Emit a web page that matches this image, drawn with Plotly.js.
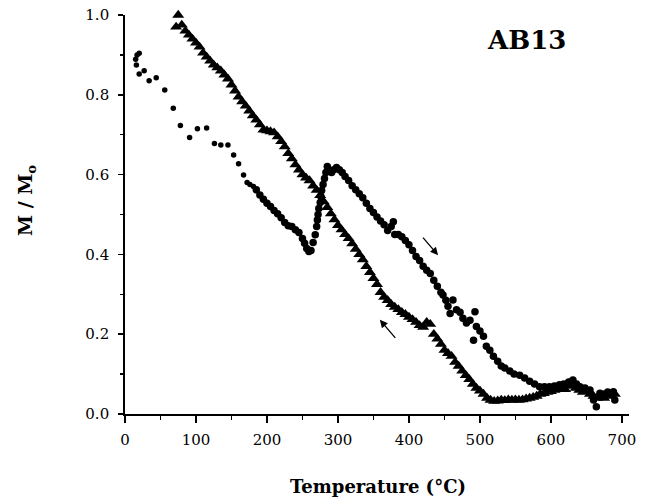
<!DOCTYPE html>
<html>
<head>
<meta charset="utf-8">
<script src="https://cdn.plot.ly/plotly-3.0.1.min.js"></script>
<style>html,body{margin:0;padding:0;background:#fff;}#chart{width:646px;height:499px;}</style>
</head>
<body>
<div id="chart"></div>
<script>
// Heating curve (circles)
const heatT = [15,17,20,16,20,27,34,44,56,68,78,91,102,115,126,135,145,153,160,167,172,176,181,
  185,190,195,200,205,210,215,220,225,230,235,240,245,250,253,256,259,262,265,268,270,271,272,273,275,276,277,279,281,283,285,
  288,291,294,298,302,306,310,315,320,325,330,335,340,345,350,355,360,365,370,375,378,380,385,390,395,400,405,410,415,420,425,
  430,435,440,445,448,452,455,458,462,467,472,476,481,486,491,493,495,500,505,509,514,519,525,530,535,542,548,556,563,570,577,
  584,591,598,605,612,618,625,631,636,641,648,655,660,664,669,675,680,688,690];
const heatM = [0.889,0.90,0.904,0.875,0.852,0.86,0.835,0.843,0.812,0.766,0.723,0.693,0.715,0.717,0.678,0.674,0.674,0.649,0.627,0.599,0.58,0.575,0.570,
  0.562,0.549,0.538,0.528,0.52,0.51,0.502,0.492,0.48,0.472,0.47,0.462,0.455,0.44,0.428,0.415,0.407,0.41,0.43,0.449,0.47,0.486,0.50,0.515,0.53,0.545,0.56,0.575,0.59,0.605,0.62,
  0.61,0.605,0.612,0.618,0.612,0.605,0.595,0.585,0.572,0.562,0.552,0.542,0.528,0.515,0.505,0.494,0.484,0.474,0.46,0.47,0.482,0.45,0.45,0.444,0.435,0.424,0.41,0.395,0.385,0.37,0.36,
  0.352,0.335,0.32,0.305,0.298,0.285,0.27,0.252,0.286,0.261,0.255,0.24,0.228,0.235,0.185,0.256,0.219,0.208,0.195,0.17,0.16,0.145,0.132,0.12,0.115,0.108,0.10,0.097,0.09,0.082,0.075,
  0.068,0.068,0.068,0.07,0.073,0.075,0.08,0.085,0.075,0.068,0.065,0.06,0.035,0.018,0.052,0.05,0.055,0.056,0.035];

// Cooling curve (triangles)
const coolT = [72,75,80,85,90,95,100,105,110,115,120,125,130,135,140,145,150,155,160,165,170,175,180,185,190,195,200,205,210,215,220,225,230,235,240,245,250,255,260,265,270,275,280,285,290,295,300,305,310,315,320,325,330,335,340,345,350,355,360,365,370,375,380,385,390,395,400,405,410,415,420,425,430,435,440,445,450,455,460,465,470,475,480,485,490,495,500,505,510,515,520,525,530,535,540,545,550,555,560,565,570,575,580,585,590,595,600,605,610,615,620,625,630,635,640,645,650,655,660,665,670,675,680,685,690];
const coolM = [0.97,1.00,0.975,0.96,0.95,0.94,0.93,0.92,0.905,0.895,0.885,0.875,0.868,0.86,0.85,0.84,0.825,0.81,0.795,0.783,0.772,0.76,0.748,0.737,0.725,0.712,0.71,0.708,0.705,0.695,0.683,0.67,0.653,0.64,0.625,0.612,0.60,0.592,0.585,0.572,0.561,0.548,0.532,0.518,0.502,0.487,0.473,0.462,0.45,0.44,0.427,0.413,0.40,0.387,0.37,0.355,0.34,0.325,0.305,0.293,0.285,0.275,0.268,0.262,0.255,0.25,0.243,0.237,0.23,0.222,0.218,0.23,0.225,0.20,0.188,0.175,0.16,0.152,0.145,0.13,0.12,0.108,0.097,0.087,0.075,0.065,0.058,0.05,0.04,0.035,0.032,0.033,0.035,0.034,0.036,0.035,0.036,0.035,0.036,0.038,0.04,0.042,0.045,0.05,0.052,0.055,0.057,0.06,0.062,0.065,0.062,0.07,0.075,0.065,0.06,0.055,0.06,0.05,0.045,0.04,0.045,0.04,0.05,0.045,0.05];

const xTickVals = [0,100,200,300,400,500,600,700];
const yTickVals = [0.0,0.2,0.4,0.6,0.8,1.0];

const serif = "DejaVu Serif";

// early (sparse) heating dots are drawn smaller than the dense band
const heatSizes = heatT.map((t, i) => (i < 23 ? 5.5 : 7.5));

const traces = [
  {x: coolT, y: coolM, mode: 'markers', type: 'scatter', cliponaxis: false,
   marker: {symbol: 'triangle-up', size: 10.5, color: '#000', opacity: 1}},
  {x: heatT, y: heatM, mode: 'markers', type: 'scatter', cliponaxis: false,
   marker: {symbol: 'circle', size: heatSizes, color: '#000', opacity: 1, line: {width: 0}}}
];

const layout = {
  width: 646, height: 499,
  margin: {l: 125, r: 17, t: 15, b: 85},
  paper_bgcolor: '#fff', plot_bgcolor: '#fff',
  showlegend: false,
  font: {family: serif, color: '#000', size: 15},
  xaxis: {
    range: [0, 710], showgrid: false, zeroline: false,
    showline: true, linecolor: '#000', linewidth: 1.8,
    tickvals: xTickVals, ticktext: xTickVals.map(String),
    ticks: 'outside', ticklen: 7, tickwidth: 1.5, tickcolor: '#000',
    ticklabelstandoff: 4,
    minor: {dtick: 50, ticks: 'outside', ticklen: 4, tickwidth: 1.3, tickcolor: '#000'},
    tickfont: {family: serif, size: 15}
  },
  yaxis: {
    range: [0, 1.0], showgrid: false, zeroline: false,
    showline: true, linecolor: '#000', linewidth: 1.8,
    tickvals: yTickVals, ticktext: yTickVals.map(v => v.toFixed(1)),
    ticks: 'outside', ticklen: 5, tickwidth: 1.5, tickcolor: '#000',
    ticklabelstandoff: 6,
    minor: {dtick: 0.1, ticks: 'outside', ticklen: 3, tickwidth: 1.3, tickcolor: '#000'},
    tickfont: {family: serif, size: 15}
  },
  annotations: [
    {xref: 'x', yref: 'y', x: 566, y: 0.937, text: '<b>AB13</b>', showarrow: false,
     font: {family: serif, size: 26, color: '#000'}},
    {xref: 'paper', yref: 'paper', x: (378 - 125) / 504, y: 0, yshift: -72, yanchor: 'middle', xanchor: 'center',
     text: '<b>Temperature (°C)</b>', showarrow: false, font: {family: serif, size: 18, color: '#000'}},
    {xref: 'paper', yref: 'paper', x: 0, xshift: -99, y: (414 - 201) / 399, xanchor: 'center', yanchor: 'middle',
     text: '<b>M / M<sub>o</sub></b>', textangle: -90, showarrow: false, font: {family: serif, size: 19, color: '#000'}},
    {xref: 'x', yref: 'y', axref: 'x', ayref: 'y', x: 441, y: 0.398, ax: 418, ay: 0.446,
     text: '', showarrow: true, arrowhead: 2, arrowsize: 1.2, arrowwidth: 1.3, arrowcolor: '#000', standoff: 0, startstandoff: 0},
    {xref: 'x', yref: 'y', axref: 'x', ayref: 'y', x: 359, y: 0.236, ax: 382.6, ay: 0.187,
     text: '', showarrow: true, arrowhead: 2, arrowsize: 1.2, arrowwidth: 1.3, arrowcolor: '#000', standoff: 0, startstandoff: 0}
  ]
};

Plotly.newPlot('chart', traces, layout, {displayModeBar: false, staticPlot: true});
</script>
</body>
</html>
